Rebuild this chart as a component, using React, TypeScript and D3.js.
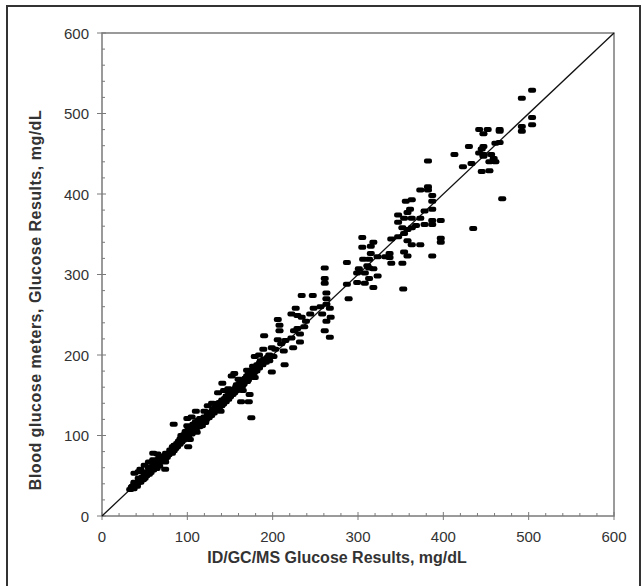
import React, { useEffect, useRef } from 'react'
import * as d3 from 'd3'

// reference method (ID/GC/MS) vs meter reading, mg/dL
const refValues = [
  504, 492, 492, 492, 504, 504, 466, 466, 452, 447, 442, 466, 461, 447, 430, 445, 442, 447, 456, 459,
  461, 454, 447, 413, 423, 433, 445, 454, 469, 435, 382, 373, 382, 382, 387, 387, 387, 397, 397, 397,
  387, 387, 387, 378, 373, 363, 361, 356, 358, 354, 363, 373, 378, 368, 363, 358, 347, 347, 352, 354,
  339, 347, 358, 363, 354, 358, 352, 353, 337, 337, 339, 332, 323, 318, 315, 305, 305, 306, 315, 313,
  311, 313, 301, 299, 308, 318, 313, 308, 323, 318, 299, 287, 287, 289, 261, 261, 261, 263, 263, 263,
  267, 268, 263, 261, 267, 258, 256, 247, 234, 248, 244, 239, 234, 227, 222, 229, 237, 229, 225, 232,
  222, 232, 224, 215, 208, 206, 208, 210, 213, 214, 206, 199, 203, 201, 196, 199, 190, 189, 184, 186,
  179, 177, 174, 179, 170, 170, 173, 172, 175, 163, 165, 158, 155, 152, 160, 165, 148, 148, 141, 143,
  136, 141, 136, 129, 131, 124, 120, 127, 139, 110, 115, 105, 100, 108, 100, 110, 105, 98, 93, 96,
  91, 103, 101, 86, 84, 81, 76, 72, 65, 60, 74, 67, 60, 55, 62, 55, 50, 45, 38, 43,
  50, 43, 38, 36, 33, 41, 45, 74,
  35, 37, 38, 40, 42, 44, 45, 47, 48, 50, 50, 52, 53, 55, 56, 57, 58, 60, 60, 62,
  63, 64, 65, 66, 67, 68, 70, 70, 72, 73, 74, 75, 76, 78, 80, 80, 82, 83, 84, 85,
  86, 88, 88, 90, 91, 92, 93, 94, 95, 96, 97, 98, 99, 100, 100, 101, 102, 103, 104, 105,
  106, 107, 108, 109, 110, 110, 111, 112, 113, 114, 115, 116, 117, 118, 120, 121, 122, 124, 125, 127,
  128, 130, 131, 133, 134, 136, 137, 138, 140, 141, 142, 144, 145, 146, 148, 149, 150, 151, 153, 154,
  155, 157, 158, 160, 161, 162, 164, 165, 166, 168, 169, 170, 171, 172, 173, 175, 176, 177, 178, 180,
  181, 182, 184, 185, 187, 188, 190, 192, 194, 196,
]

const meterValues = [
  529, 519, 484, 478, 495, 486, 480, 478, 480, 475, 480, 464, 463, 459, 459, 456, 451, 449, 449, 444,
  440, 440, 447, 449, 434, 438, 428, 429, 394, 357, 441, 405, 409, 405, 398, 391, 381, 367, 345, 340,
  367, 362, 323, 362, 337, 393, 381, 391, 377, 370, 370, 370, 379, 361, 358, 356, 374, 365, 358, 351,
  344, 347, 342, 337, 328, 323, 314, 282, 326, 321, 314, 322, 322, 340, 335, 346, 334, 319, 326, 319,
  311, 308, 307, 302, 302, 307, 295, 289, 298, 284, 290, 315, 288, 270, 308, 295, 289, 277, 270, 263,
  258, 247, 242, 230, 222, 251, 260, 274, 274, 258, 251, 242, 247, 258, 251, 249, 235, 233, 230, 226,
  221, 216, 209, 218, 230, 244, 237, 214, 205, 188, 219, 209, 207, 198, 193, 179, 224, 207, 200, 193,
  198, 186, 177, 172, 181, 167, 151, 142, 122, 142, 156, 163, 177, 174, 170, 163, 158, 149, 165, 156,
  153, 144, 140, 140, 133, 137, 130, 128, 130, 130, 121, 123, 121, 114, 112, 109, 105, 105, 100, 95,
  91, 95, 86, 86, 114, 81, 77, 74, 77, 78, 67, 72, 70, 67, 63, 60, 63, 58, 53, 55,
  53, 47, 42, 37, 33, 37, 44, 58,
  36, 34, 40, 38, 41, 46, 42, 48, 45, 52, 47, 50, 55, 52, 58, 54, 61, 57, 63, 60,
  65, 59, 68, 64, 62, 70, 68, 73, 69, 75, 71, 78, 73, 76, 79, 82, 78, 86, 81, 88,
  84, 90, 86, 93, 89, 96, 92, 98, 94, 101, 97, 103, 99, 106, 102, 98, 109, 105, 111, 102,
  108, 114, 106, 112, 117, 109, 104, 114, 119, 111, 116, 121, 112, 118, 123, 116, 120, 126, 122, 129,
  125, 132, 128, 135, 131, 138, 134, 141, 137, 143, 139, 146, 142, 149, 145, 152, 148, 155, 151, 157,
  153, 160, 156, 163, 159, 166, 161, 168, 164, 171, 167, 174, 169, 177, 172, 179, 175, 182, 178, 185,
  180, 188, 184, 190, 192, 188, 195, 191, 197, 200,
]

const xTicks = [0, 100, 200, 300, 400, 500, 600]
const yTicks = [0, 100, 200, 300, 400, 500, 600]

const W = 642
const H = 586
const left = 102
const right = 614
const top = 33
const bottom = 516

export default function App() {
  const ref = useRef<SVGSVGElement>(null)

  useEffect(() => {
    const svg = d3.select(ref.current)
    svg.selectAll('*').remove()

    const x = d3.scaleLinear().domain([0, 600]).range([left, right])
    const y = d3.scaleLinear().domain([0, 600]).range([bottom, top])
    const axisColor = '#7a7a7a'

    // outer frame
    svg.append('path')
      .attr('d', `M7,${H + 2} V6 H640 V${H + 2}`)
      .attr('fill', 'none')
      .attr('stroke', '#333')
      .attr('stroke-width', 2)

    // plot box
    svg.append('rect')
      .attr('x', left).attr('y', top)
      .attr('width', right - left).attr('height', bottom - top)
      .attr('fill', 'none')
      .attr('stroke', axisColor)
      .attr('stroke-width', 1.5)

    const minor = d3.range(20, 600, 20).filter(v => v % 100 !== 0)

    const g = svg.append('g').attr('stroke', axisColor).attr('stroke-width', 1)
    minor.forEach(v => {
      g.append('line').attr('x1', x(v)).attr('x2', x(v)).attr('y1', bottom).attr('y2', bottom - 3)
      g.append('line').attr('x1', left).attr('x2', left + 3).attr('y1', y(v)).attr('y2', y(v))
    })
    xTicks.forEach(v => {
      g.append('line').attr('x1', x(v)).attr('x2', x(v)).attr('y1', bottom - 4).attr('y2', bottom + 4)
    })
    yTicks.forEach(v => {
      g.append('line').attr('x1', left - 5).attr('x2', left + 4).attr('y1', y(v)).attr('y2', y(v))
    })

    const font = 'Liberation Sans, Arial, sans-serif'
    svg.append('g').selectAll('text').data(xTicks).join('text')
      .attr('x', d => x(d)).attr('y', bottom + 26)
      .attr('text-anchor', 'middle')
      .attr('font-family', font).attr('font-size', 15).attr('fill', '#333')
      .text(d => d)
    svg.append('g').selectAll('text').data(yTicks).join('text')
      .attr('x', left - 13).attr('y', d => y(d) + 5.5)
      .attr('text-anchor', 'end')
      .attr('font-family', font).attr('font-size', 15).attr('fill', '#333')
      .text(d => d)

    svg.append('text')
      .attr('x', 337).attr('y', 563)
      .attr('text-anchor', 'middle')
      .attr('font-family', font).attr('font-size', 16).attr('font-weight', 'bold').attr('fill', '#333')
      .text('ID/GC/MS Glucose Results, mg/dL')
    svg.append('text')
      .attr('transform', `translate(41,300) rotate(-90)`)
      .attr('text-anchor', 'middle')
      .attr('font-family', font).attr('font-size', 16).attr('font-weight', 'bold').attr('fill', '#333')
      .attr('letter-spacing', 0.5)
      .text('Blood glucose meters, Glucose Results, mg/dL')

    // identity line
    svg.append('line')
      .attr('x1', x(0)).attr('y1', y(0)).attr('x2', x(600)).attr('y2', y(600))
      .attr('stroke', '#111').attr('stroke-width', 1.3)

    const pts = refValues.map((v, i) => [v, meterValues[i]])
    svg.append('g').selectAll('rect').data(pts).join('rect')
      .attr('x', d => x(d[0]) - 4)
      .attr('y', d => y(d[1]) - 2.5)
      .attr('width', 8).attr('height', 5).attr('rx', 2)
      .attr('fill', '#000')
  }, [])

  return (
    <svg ref={ref} width={W} height={H}
      style={{ position: 'absolute', left: 0, top: 0, background: '#fff' }} />
  )
}
